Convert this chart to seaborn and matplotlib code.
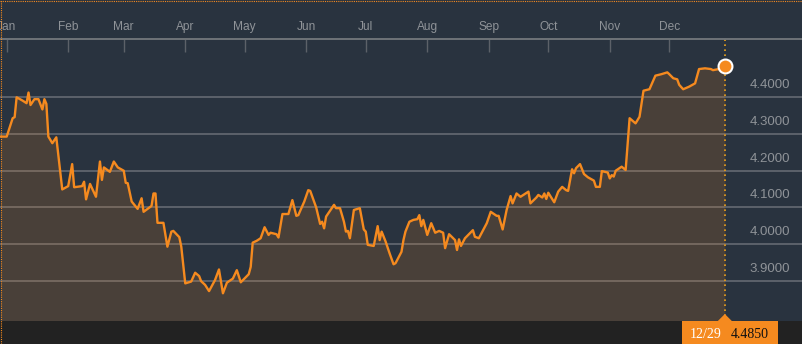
import numpy as np
import pandas as pd
import matplotlib
matplotlib.use("Agg")
import matplotlib.pyplot as plt
import matplotlib.transforms as mtransforms
from matplotlib.patches import Polygon, Rectangle
from matplotlib.lines import Line2D
import seaborn as sns

# ---------------- data ----------------
days = [-3, 0, 3, 4, 5, 8, 10, 11, 12, 14,
        16, 18, 19, 20, 21, 23, 25, 28, 31, 33,
        34, 38, 39, 40, 42, 45, 47, 48, 49, 52,
        54, 56, 59, 60, 61, 63, 66, 68, 69, 73,
        74, 75, 76, 79, 81, 83, 84, 87, 88, 90,
        93, 95, 97, 98, 100, 102, 105, 107, 109, 111,
        114, 116, 118, 120, 122, 123, 124, 126, 128, 130,
        132, 133, 136, 137, 139, 142, 144, 146, 147, 150,
        152, 153, 156, 158, 159, 160, 161, 163, 165, 166,
        168, 170, 171, 172, 173, 175, 178, 180, 181, 182,
        185, 187, 188, 189, 191, 193, 195, 196, 199, 200,
        201, 203, 205, 207, 208, 209, 210, 212, 214, 216,
        218, 220, 221, 223, 226, 227, 228, 229, 231, 235,
        236, 238, 242, 244, 247, 248, 250, 252, 254, 255,
        257, 259, 263, 264, 267, 268, 270, 271, 272, 273,
        276, 278, 280, 282, 283, 285, 286, 287, 289, 291,
        293, 296, 297, 299, 300, 303, 304, 305, 306, 307,
        310, 312, 314, 317, 319, 321, 324, 327, 330, 333,
        334, 336, 338, 339, 341, 344, 347, 349, 352, 355,
        356, 359, 362]

rates = [4.293, 4.293, 4.343, 4.346, 4.400, 4.391, 4.384, 4.413, 4.379, 4.395,
         4.395, 4.367, 4.395, 4.382, 4.293, 4.275, 4.291, 4.149, 4.158, 4.218,
         4.155, 4.158, 4.170, 4.122, 4.164, 4.129, 4.225, 4.175, 4.209, 4.197,
         4.225, 4.209, 4.200, 4.167, 4.166, 4.116, 4.096, 4.125, 4.088, 4.104,
         4.138, 4.138, 4.058, 4.058, 3.993, 4.034, 4.036, 4.019, 3.993, 3.893,
         3.898, 3.922, 3.913, 3.899, 3.889, 3.872, 3.902, 3.931, 3.866, 3.895,
         3.906, 3.929, 3.896, 3.907, 3.918, 3.938, 4.004, 4.009, 4.016, 4.046,
         4.025, 4.031, 4.027, 4.018, 4.082, 4.082, 4.120, 4.077, 4.079, 4.116,
         4.147, 4.145, 4.100, 4.055, 4.061, 4.043, 4.075, 4.091, 4.107, 4.098,
         4.098, 4.061, 4.034, 4.036, 4.016, 4.093, 4.098, 4.040, 4.034, 3.998,
         3.995, 4.049, 4.011, 4.034, 4.007, 3.975, 3.945, 3.948, 3.979, 4.011,
         4.034, 4.061, 4.066, 4.068, 4.079, 4.049, 4.066, 4.025, 4.057, 4.031,
         4.036, 4.031, 3.989, 4.027, 4.011, 3.984, 4.013, 3.995, 4.016, 4.038,
         4.020, 4.016, 4.057, 4.088, 4.077, 4.077, 4.040, 4.093, 4.131, 4.111,
         4.138, 4.129, 4.143, 4.111, 4.127, 4.134, 4.127, 4.138, 4.123, 4.140,
         4.114, 4.143, 4.156, 4.147, 4.145, 4.204, 4.193, 4.207, 4.218, 4.191,
         4.182, 4.173, 4.156, 4.156, 4.199, 4.195, 4.179, 4.188, 4.184, 4.200,
         4.211, 4.202, 4.343, 4.329, 4.347, 4.418, 4.422, 4.459, 4.463, 4.468,
         4.463, 4.452, 4.449, 4.434, 4.422, 4.429, 4.438, 4.477, 4.479, 4.477,
         4.474, 4.477, 4.485]

month_labels = ["Jan", "Feb", "Mar", "Apr", "May", "Jun",
                "Jul", "Aug", "Sep", "Oct", "Nov", "Dec"]
ytick_values = [3.9, 4.0, 4.1, 4.2, 4.3, 4.4]

# ---------------- style ----------------
BG = "#29333f"
ORANGE = "#f58a1f"
GRID = "#6a6f76"
TXT = "#8f9398"
BAND = "#222222"
W, H = 802, 344

base = pd.Timestamp("2023-01-01")
df = pd.DataFrame({"date": base + pd.to_timedelta(days, unit="D"), "rate": rates})

fig = plt.figure(figsize=(W / 100, H / 100), dpi=100, facecolor=BG)
ax = fig.add_axes([0, 23 / H, 1, 282 / H])
ax.set_facecolor(BG)

y_lo, y_hi = 3.7905, 4.5589
ax.set_ylim(y_lo, y_hi)
ax.set_xlim(base + pd.Timedelta(days=-3.38), base + pd.Timedelta(days=400.9))

sns.lineplot(data=df, x="date", y="rate", ax=ax, color=ORANGE, lw=1.7, zorder=4)
ax.fill_between(df["date"], df["rate"], y_lo, color=ORANGE, alpha=0.16, lw=0, zorder=3)

# x axis on top
mticks = pd.date_range("2023-01-01", periods=12, freq="MS")
ax.xaxis.tick_top()
ax.set_xticks(mticks)
ax.set_xticklabels(month_labels, fontfamily="Liberation Sans")
ax.tick_params(axis="x", direction="in", length=9.5, width=1.0, color="#5c6168",
               pad=4, labelsize=8.6, labelcolor=TXT)
ax.set_xlabel("")
ax.set_ylabel("")

# y grid + labels
ax.set_yticks(ytick_values)
ax.tick_params(axis="y", left=False, right=False, labelleft=False)
ax.set_axisbelow(True)
ax.grid(axis="y", color=GRID, lw=1.1, zorder=1)
ax.grid(axis="x", visible=False)
trans = mtransforms.blended_transform_factory(ax.transAxes, ax.transData)
for v in ytick_values:
    ax.text(0.985, v + 0.033, f"{v:.4f}", transform=trans, ha="right", va="center",
            color=TXT, fontsize=9.5, fontfamily="Liberation Sans", zorder=5)

for s in ["left", "right", "bottom"]:
    ax.spines[s].set_visible(False)
ax.spines["top"].set_color("#6e7378")
ax.spines["top"].set_linewidth(1.4)

# last point marker + dotted vertical line
last_date = df["date"].iloc[-1]
last_rate = df["rate"].iloc[-1]
ax.axvline(last_date, color="#e9a21c", ls=(0, (1, 2)), lw=1.2, zorder=2)
ax.plot([last_date], [last_rate], "o", ms=10, mfc=ORANGE, mec="white", mew=1.5,
        zorder=6, clip_on=False)

# bottom band and value label
fig.patches.append(Rectangle((0, 0), 1, 23 / H, transform=fig.transFigure,
                             facecolor=BAND, edgecolor="none", zorder=0))
fig.canvas.draw()
xp = ax.transData.transform((matplotlib.dates.date2num(last_date), last_rate))[0]
ident = mtransforms.IdentityTransform()
fig.patches.append(Rectangle((xp - 43, 0), 96, 23, transform=ident,
                             facecolor=ORANGE, edgecolor="none", zorder=5))
fig.patches.append(Polygon([(xp - 7, 23), (xp + 7, 23), (xp, 30)], closed=True,
                           transform=ident, facecolor=ORANGE, edgecolor="none", zorder=5))
fig.text((xp - 19.5) / W, 10 / H, last_date.strftime("%m/%d"), color="white",
         fontsize=10, fontfamily="Liberation Serif", ha="center", va="center", zorder=10)
fig.text((xp + 25) / W, 10 / H, f"{last_rate:.4f}", color="#111111",
         fontsize=10, fontfamily="Liberation Serif", ha="center", va="center", zorder=10)

# dotted orange frame at top/left edges
fig.add_artist(Line2D([0, 1], [1 - 0.5 / H, 1 - 0.5 / H], transform=fig.transFigure,
                      color=ORANGE, lw=0.8, ls=(0, (1, 1)), zorder=10))
fig.add_artist(Line2D([0.5 / W, 0.5 / W], [0, 1], transform=fig.transFigure,
                      color=ORANGE, lw=0.8, ls=(0, (1, 1)), zorder=10))

fig.savefig("out.png", dpi=100, facecolor=BG)
